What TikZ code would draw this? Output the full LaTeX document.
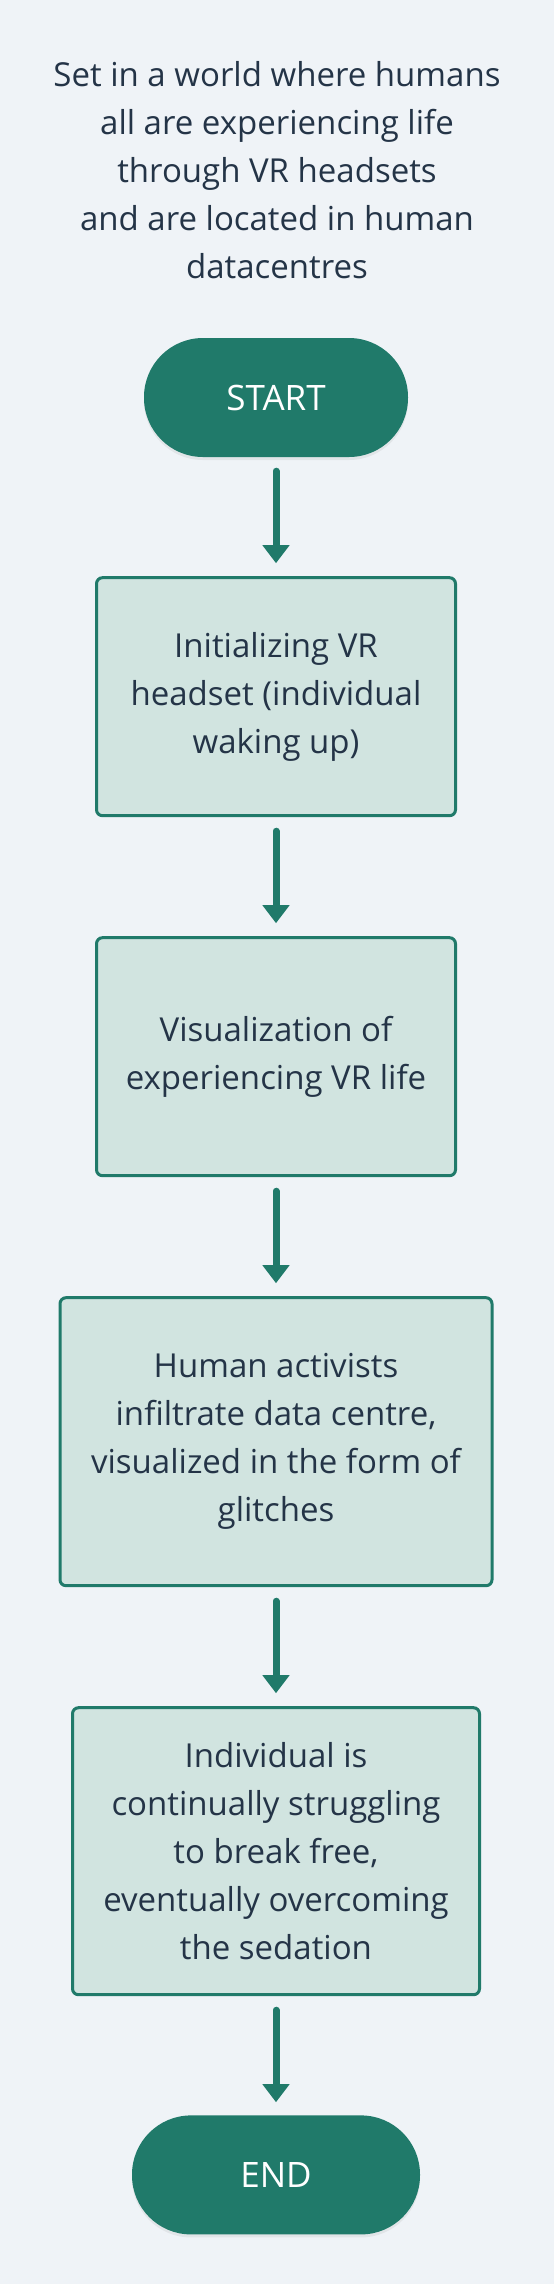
\documentclass[tikz,border=0pt]{standalone}
\usepackage{fontspec}
\setmainfont{Open Sans}
\definecolor{green1}{RGB}{32, 122, 106}
\definecolor{mint1}{RGB}{209, 228, 224}
\definecolor{bg1}{RGB}{239, 243, 247}
\definecolor{ink1}{RGB}{36, 52, 71}
\usetikzlibrary{shapes, arrows.meta, positioning, shadows}

\begin{document}
\begin{tikzpicture}[
  pill/.style={fill=green1, rounded corners=59pt, minimum height=119pt, text=white,
    font=\fontsize{35}{48}\selectfont,
    drop shadow={opacity=0.12, shadow xshift=0pt, shadow yshift=-3pt}},
  stepbox/.style={draw=green1, line width=3pt, fill=mint1, rounded corners=6pt,
    align=center, text=ink1, font=\fontsize{33}{48}\selectfont},
  flow/.style={green1, line width=7pt, line cap=round,
    -{Triangle[width=26pt, length=18pt]}, shorten <=14pt, shorten >=13pt},
  node distance=119pt
]
  \fill[bg1] (0,0) rectangle (554pt,-2284pt);
  \useasboundingbox (0,0) rectangle (554pt,-2284pt);

  \node[text=ink1, align=center, inner sep=0pt, font=\fontsize{33}{48}\selectfont] (intro) at (277pt,-170pt)
    {Set in a world where humans\\ all are experiencing life\\ through VR headsets\\ and are located in human\\ datacentres};

  \node[pill, minimum width=264pt] (start) at (276pt,-397.5pt) {START};
  \node[stepbox, minimum width=359pt, minimum height=238pt, below=of start] (init)
    {Initializing VR\\ headset (individual\\ waking up)};
  \node[stepbox, minimum width=359pt, minimum height=238pt, below=of init] (vrlife)
    {Visualization of\\ experiencing VR life};
  \node[stepbox, minimum width=432pt, minimum height=288pt, below=of vrlife] (glitch)
    {Human activists\\ infiltrate data centre,\\ visualized in the form of\\ glitches};
  \node[stepbox, minimum width=407pt, minimum height=287pt, below=of glitch] (breakfree)
    {Individual is\\ continually struggling\\ to break free,\\ eventually overcoming\\ the sedation};
  \node[pill, minimum width=288pt, below=of breakfree] (end) {END};

  \draw[flow] (start) -- (init);
  \draw[flow] (init) -- (vrlife);
  \draw[flow] (vrlife) -- (glitch);
  \draw[flow] (glitch) -- (breakfree);
  \draw[flow] (breakfree) -- (end);
\end{tikzpicture}
\end{document}
